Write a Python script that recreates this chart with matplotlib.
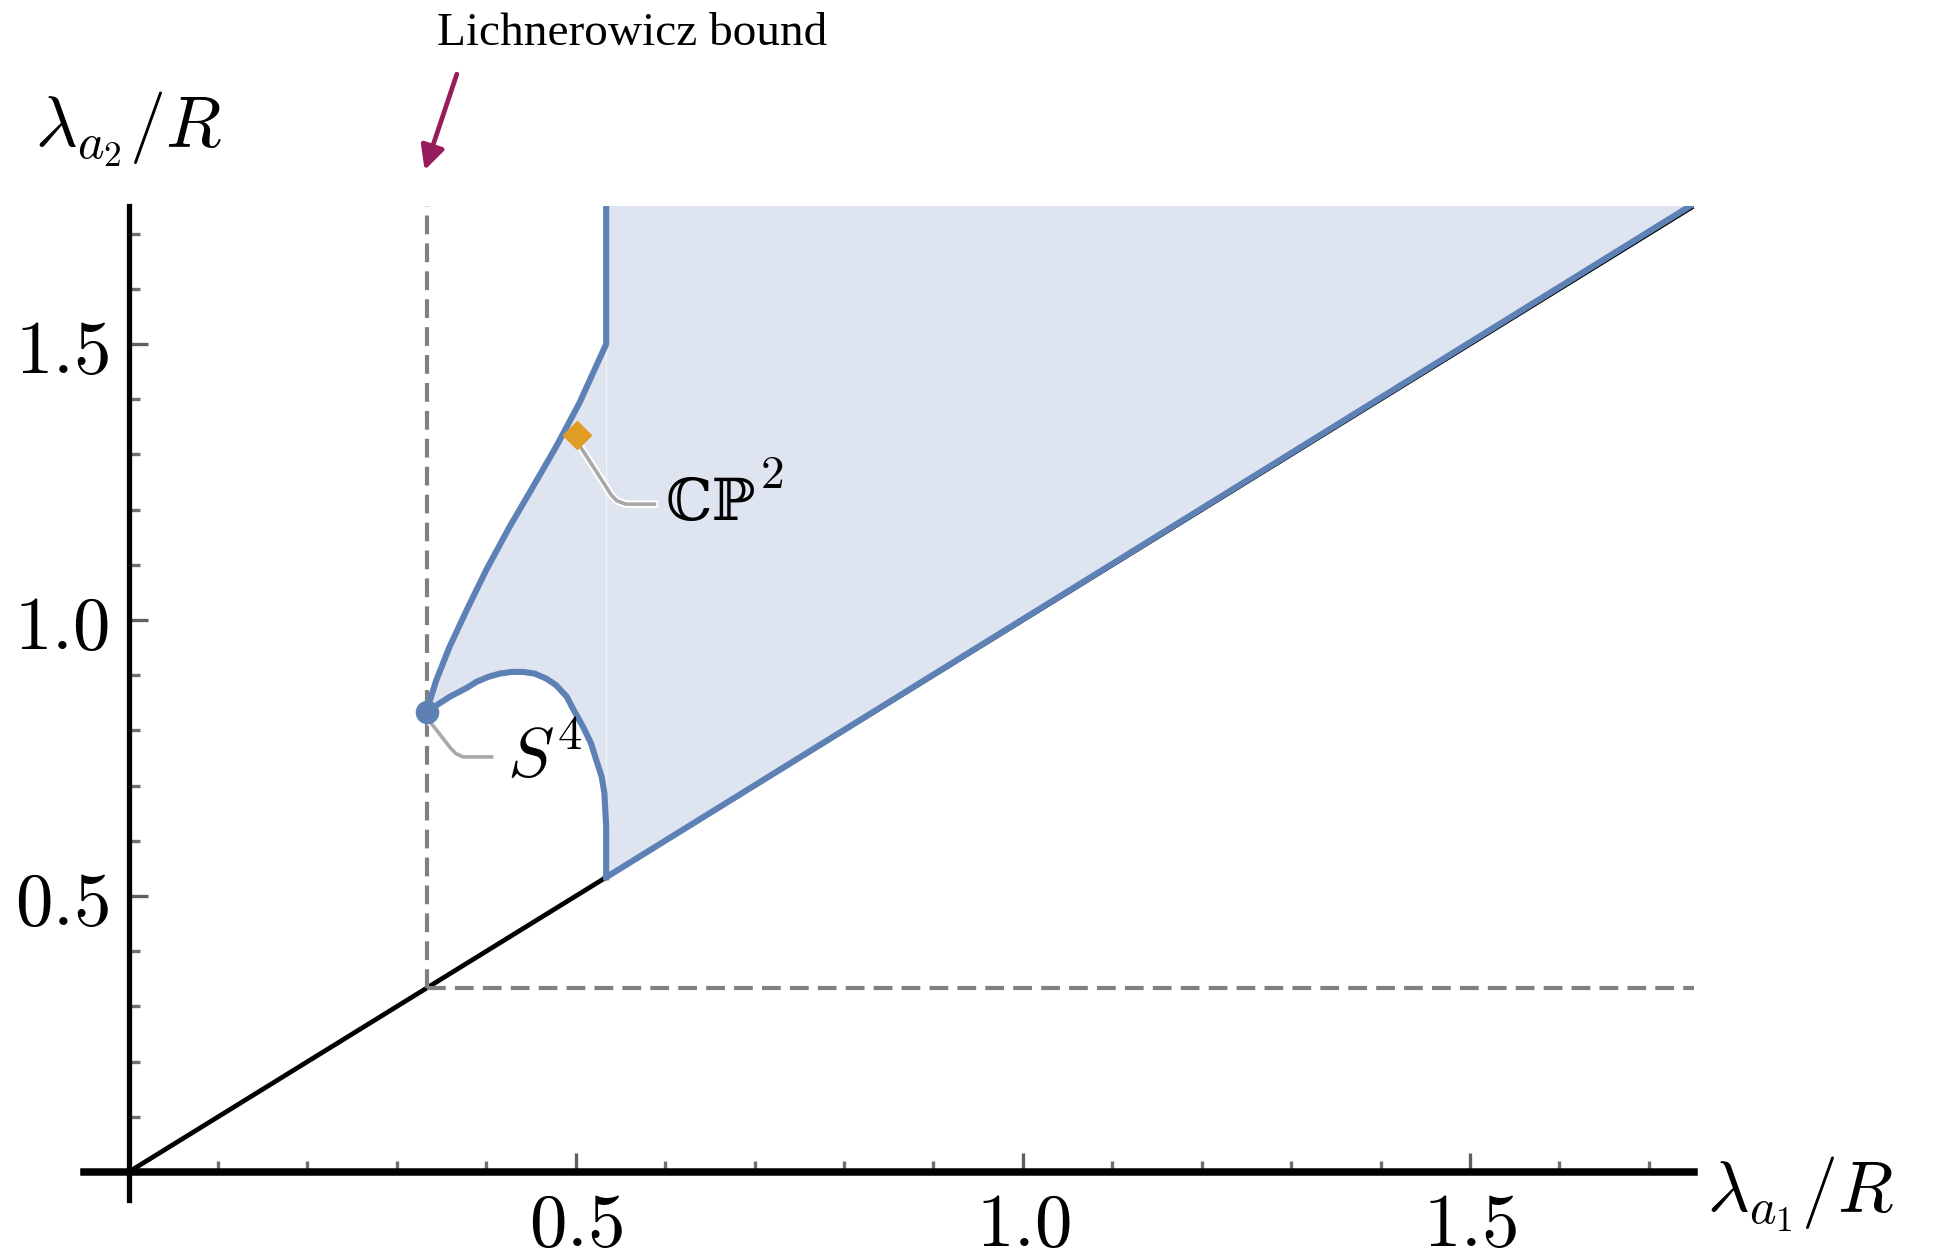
import numpy as np
import matplotlib
matplotlib.use("Agg")
import matplotlib.pyplot as plt
import matplotlib.patheffects as pe

plt.rcParams['mathtext.fontset'] = 'cm'

# boundary of the allowed region
upper_x = [0.3333, 0.3348, 0.344, 0.359, 0.378, 0.400, 0.426, 0.452, 0.478, 0.504, 0.534]
upper_y = [0.834, 0.843, 0.891, 0.952, 1.018, 1.091, 1.169, 1.241, 1.314, 1.393, 1.500]
lower_x = [0.3333, 0.359, 0.378, 0.389, 0.402, 0.415, 0.428, 0.441, 0.454, 0.467, 0.478,
           0.490, 0.497, 0.508, 0.517, 0.523, 0.529, 0.532, 0.534, 0.534]
lower_y = [0.834, 0.861, 0.877, 0.888, 0.897, 0.903, 0.906, 0.906, 0.903, 0.894, 0.882,
           0.861, 0.839, 0.807, 0.777, 0.746, 0.716, 0.686, 0.626, 0.534]
top_y = 1.75
right_x = 1.75
lich = 1 / 3

s4_pt = (1 / 3, 0.834)
cp2_pt = (0.501, 1.335)

xticks_major = [0.5, 1.0, 1.5]
xtick_labels = ["0.5", "1.0", "1.5"]
minor_ticks = [0.1, 0.2, 0.3, 0.4, 0.6, 0.7, 0.8, 0.9, 1.1, 1.2, 1.3, 1.4, 1.6, 1.7]

blue = "#5E81B5"
fill_c = "#DFE5F0"
orange = "#E19C24"

fig = plt.figure(figsize=(19.38, 12.58), dpi=100)
ax = fig.add_axes([0.0433, 0.0464, 0.8306, 0.7898])
ax.set_xlim(-0.05, right_x)
ax.set_ylim(-0.05, top_y)

# filled region
poly_x = upper_x + [upper_x[-1], right_x, lower_x[-1]] + lower_x[::-1]
poly_y = upper_y + [top_y, top_y, lower_y[-1]] + lower_y[::-1]
ax.fill(poly_x, poly_y, color=fill_c, lw=0, zorder=1)
ax.plot([0.534, 0.534], [0.68, top_y], color="white", lw=0.8, alpha=0.6, zorder=1.5)

# diagonal y = x
ax.plot([0, right_x], [0, right_x], color="black", lw=3.4, zorder=2)

# Lichnerowicz dashed lines
dash = (0, (4.5, 2.2))
ax.plot([lich, lich], [lich, top_y], color="#808080", lw=3.0, ls=dash, zorder=2)
ax.plot([lich, right_x], [lich, lich], color="#808080", lw=3.0, ls=dash, zorder=2)

# blue boundary
ax.plot(upper_x + [upper_x[-1]], upper_y + [top_y], color=blue, lw=4.4, zorder=3,
        solid_capstyle="butt", solid_joinstyle="round")
ax.plot(lower_x, lower_y, color=blue, lw=4.4, zorder=3, solid_joinstyle="round")
ax.plot([lower_x[-1], right_x], [lower_y[-1], right_x + 0.004], color=blue, lw=4.4,
        zorder=3)

# special points with callouts
halo = [pe.Stroke(linewidth=5.5, foreground="white"), pe.Normal()]
ax.plot([0.334, 0.360, 0.366, 0.374, 0.406], [0.822, 0.768, 0.758, 0.752, 0.752],
        color="#a8a8a8", lw=2.6, zorder=4, path_effects=halo, solid_joinstyle="round")
ax.plot([0.502, 0.540, 0.546, 0.556, 0.588], [1.322, 1.226, 1.216, 1.210, 1.210],
        color="#a8a8a8", lw=2.6, zorder=4, path_effects=halo, solid_joinstyle="round")
ax.plot(*s4_pt, marker="o", ms=16, color=blue, zorder=5)
ax.plot(*cp2_pt, marker="D", ms=14, color=orange, zorder=5)
ax.text(0.423, 0.752, r"$S^4$", fontsize=50, va="center", ha="left", zorder=6)
ax.text(0.600, 1.210, "ℂℙ", fontsize=42, va="center", ha="left", zorder=6,
        family=["DejaVu Serif", "DejaVu Sans"])
ax.text(0.706, 1.262, r"$2$", fontsize=34, va="center", ha="left", zorder=6)

# axes through the origin
for s in ["top", "right"]:
    ax.spines[s].set_visible(False)
ax.spines["left"].set_position(("data", 0))
ax.spines["bottom"].set_position(("data", 0))
ax.spines["left"].set_linewidth(3.8)
ax.spines["bottom"].set_linewidth(5.4)
ax.set_xticks(xticks_major)
ax.set_yticks(xticks_major)
ax.set_xticklabels(["$" + t + "$" for t in xtick_labels])
ax.set_yticklabels(["$" + t + "$" for t in xtick_labels])
ax.set_xticks(minor_ticks, minor=True)
ax.set_yticks(minor_ticks, minor=True)
ax.tick_params(which="major", direction="in", length=14, width=2.4, color="#606060",
               labelsize=54)
ax.tick_params(which="minor", direction="in", length=8, width=2.4, color="#707070")
ax.tick_params(axis="x", which="major", pad=12)
ax.tick_params(axis="y", which="major", pad=14)

# axis labels
ax.text(1.765, -0.04, r"$\lambda_{a_1}/R$", fontsize=52, ha="left", va="center",
        clip_on=False)
ax.text(0.0, 1.89, r"$\lambda_{a_2}/R$", fontsize=52, ha="center", va="center",
        clip_on=False)

ax.text(0.563, 2.063, "Lichnerowicz bound", ha="center", va="center", fontsize=34,
        family="Liberation Serif", clip_on=False)
ax.annotate("", xy=(0.331, 1.815), xytext=(0.367, 1.989), annotation_clip=False,
            arrowprops=dict(arrowstyle="-|>", color="#961C5C", lw=3.4,
                            mutation_scale=36, shrinkA=0, shrinkB=0))

fig.savefig("out.png", dpi=100)
